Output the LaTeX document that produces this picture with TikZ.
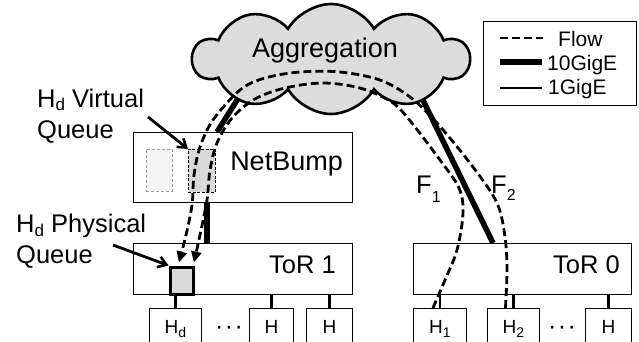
\documentclass[tikz,border=0pt]{standalone}
\usepackage{fontspec}
\setmainfont{Liberation Sans}
\usetikzlibrary{shapes.symbols, arrows.meta, calc}
\definecolor{cloudgray}{HTML}{DCDCDC}
\definecolor{qgray}{HTML}{D9D9D9}
\definecolor{qlight}{HTML}{F4F4F4}
\definecolor{qedge}{HTML}{A0A0A0}
\begin{document}
\begin{tikzpicture}[x=1pt,y=-1pt,
  box/.style={draw=black, line width=0.9pt, fill=white, inner sep=0pt, anchor=north west},
  flowline/.style={dash pattern=on 8pt off 4pt, line width=2.8pt},
  gige/.style={line width=2.8pt},
  tengige/.style={line width=5.5pt},
  ptr/.style={line width=2.8pt, -{Straight Barb[length=8pt,width=11pt,line width=2.6pt]}},
  big/.style={font=\fontsize{27}{31}\selectfont, inner sep=0pt},
  lbl/.style={font=\fontsize{25.5}{31}\selectfont, inner sep=0pt},
  hosttxt/.style={font=\fontsize{19}{21}\selectfont, inner sep=0pt, anchor=base},
  legtxt/.style={font=\fontsize{21}{24}\selectfont, inner sep=0pt, anchor=base west},
]
\useasboundingbox (0,0) rectangle (639,341);
\clip (0,0) rectangle (639,341);

% switches
\node[box, minimum width=219pt, minimum height=70pt] (nb) at (133,132) {};
\node[box, minimum width=219pt, minimum height=51pt] (tor1) at (133,243) {};
\node[box, minimum width=218pt, minimum height=51pt] (tor0) at (413,243) {};
\node[big, anchor=base east] (nbtxt) at (343,170) {NetBump};
\node[lbl, anchor=base east] (tor1txt) at (336,273) {ToR 1};
\node[lbl, anchor=base east] (tor0txt) at (620,273) {ToR 0};

% queues
\node[box, draw=qedge, fill=qlight, dash pattern=on 3pt off 2pt, minimum width=26pt, minimum height=42pt] (vq1) at (146,149) {};
\node[box, fill=qgray, dash pattern=on 3pt off 1.5pt, minimum width=27pt, minimum height=43pt] (vq2) at (188,149) {};
\node[box, fill=qgray, line width=3.8pt, minimum width=23pt, minimum height=27pt] (pq) at (168.5,265.5) {};

% hosts
\node[box, minimum width=52pt, minimum height=50pt] (hd) at (149,308) {};
\node[box, minimum width=44pt, minimum height=50pt] (ha) at (249,308) {};
\node[box, minimum width=46pt, minimum height=50pt] (hb) at (306,308) {};
\node[box, minimum width=53pt, minimum height=50pt] (h1) at (413,308) {};
\node[box, minimum width=52pt, minimum height=50pt] (h2) at (487,308) {};
\node[box, minimum width=46pt, minimum height=50pt] (h0) at (585,308) {};
\node[hosttxt] (hdtxt) at ($(hd.north)+(0,25)$) {H\raisebox{-4pt}{\fontsize{14}{14}\selectfont d}};
\node[hosttxt] (hatxt) at ($(ha.north)+(0,25)$) {H};
\node[hosttxt] (hbtxt) at ($(hb.north)+(0,25)$) {H};
\node[hosttxt] (h1txt) at ($(h1.north)+(0,25)$) {H\raisebox{-4pt}{\fontsize{14}{14}\selectfont 1}};
\node[hosttxt] (h2txt) at ($(h2.north)+(0,25)$) {H\raisebox{-4pt}{\fontsize{14}{14}\selectfont 2}};
\node[hosttxt] (h0txt) at ($(h0.north)+(0,25)$) {H};
\node[hosttxt, font=\fontsize{25}{27}\selectfont] (dots1) at (229,334) {·\kern1.5pt·\kern1.5pt·};
\node[hosttxt, font=\fontsize{25}{27}\selectfont] (dots0) at (562,334) {·\kern1.5pt·\kern1.5pt·};

% 1GigE links
\foreach \h/\t in {hd/tor1, ha/tor1, hb/tor1, h1/tor0, h2/tor0, h0/tor0}
  \draw[gige] (\h.north) -- (\h.north |- \t.south);

% 10GigE links
\coordinate (cl) at (249,81);
\coordinate (cr) at (417,88);
\draw[tengige] (cl) -- ([xshift=84pt]nb.north west);
\draw[tengige] ([xshift=74pt]nb.south west) -- ([xshift=74pt]tor1.north west);
\draw[tengige] (cr) -- ([xshift=80pt]tor0.north west);

% cloud
\node[cloud, cloud puffs=10, cloud puff arc=120, cloud ignores aspect, draw, line width=2.6pt,
      fill=cloudgray, minimum width=276pt, minimum height=110pt, inner sep=0pt] (agg) at (331,59) {};
\node[big, anchor=base] (aggtxt) at (325,57) {Aggregation};

% flows
\draw[flowline, -{Triangle[length=11pt,width=10pt]}] plot[smooth, tension=0.55] coordinates {
  ([xshift=-8pt]h2.north) (507,270) (505,237) (497,203) (473,167) (437,123) (410,97)
  (380,80) (340,72) (300,72) (265,78) (240,90) (213,120) (200,147) (194,175)
  (192,205) (186,235) ([xshift=-3pt,yshift=3pt]pq.north)};
\draw[flowline, -{Triangle[length=11pt,width=10pt]}] plot[smooth, tension=0.55] coordinates {
  ([xshift=-7pt]h1.north) (445,280) (457,250) (463,213) (459,188) (440,160) (407,117)
  (390,101) (360,88) (323,83) (285,88) (255,99) (232,118) (217,143) (210,170)
  (207,200) (200,235) ([xshift=12pt,yshift=3pt]pq.north)};

% labels
\node[lbl, anchor=base west] (f1) at (416,193) {F\raisebox{-9pt}{\fontsize{16}{16}\selectfont 1}};
\node[lbl, anchor=base west] (f2) at (491,193) {F\raisebox{-7pt}{\fontsize{16}{16}\selectfont 2}};
\node[lbl, anchor=base west] (vlab) at (37,107) {\begin{tabular}[t]{@{}l@{}}H\raisebox{-3pt}{\fontsize{17}{17}\selectfont d} Virtual\\Queue\end{tabular}};
\node[lbl, anchor=base west] (plab) at (16,232) {\begin{tabular}[t]{@{}l@{}}H\raisebox{-4pt}{\fontsize{17}{17}\selectfont d} Physical\\Queue\end{tabular}};
\coordinate (va) at (148,117);
\coordinate (pa) at (113,245);
\draw[ptr] (va) -- (vq2.north west);
\draw[ptr] (pa) -- (pq.north west);

% legend
\node[box, minimum width=153pt, minimum height=84pt] (leg) at (483,21) {};
\draw[flowline] ([shift={(17,17)}]leg.north west) -- ++(43,0);
\draw[tengige] ([shift={(17,41)}]leg.north west) -- ++(42,0);
\draw[gige] ([shift={(17,67)}]leg.north west) -- ++(42,0);
\node[legtxt] (lflow) at (558,46) {Flow};
\node[legtxt] (lten) at (547,70) {10GigE};
\node[legtxt] (lone) at (548,94) {1GigE};
\end{tikzpicture}
\end{document}
